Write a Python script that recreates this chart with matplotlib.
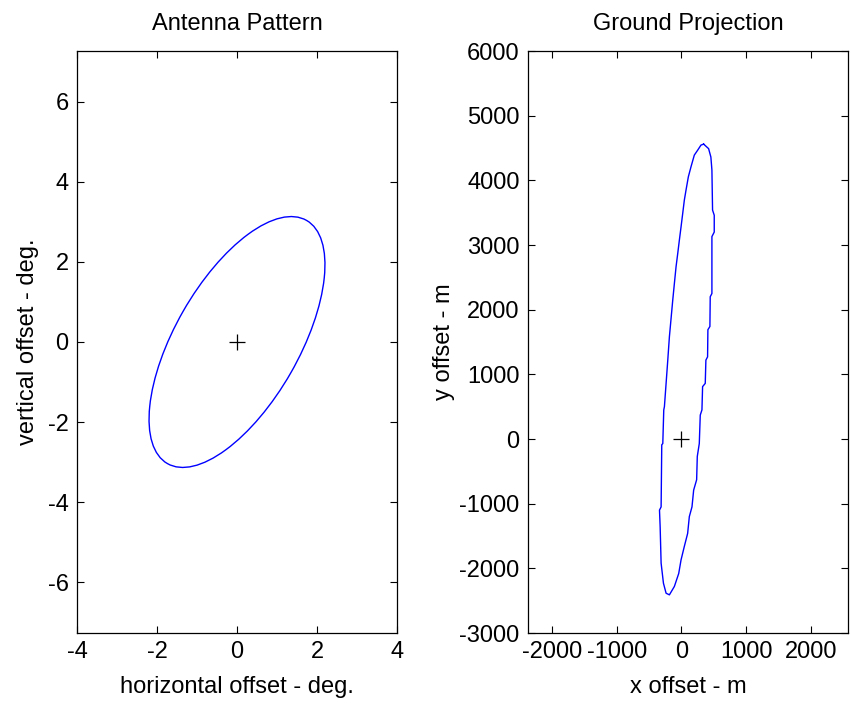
import matplotlib.pyplot as plt
from matplotlib.patches import Ellipse

plt.rcParams['font.family'] = ['Liberation Sans', 'DejaVu Sans']
plt.rcParams['axes.unicode_minus'] = False

# antenna beam footprint in angle space (deg)
beam_center = [0.0, 0.0]
beam_width = 7.0
beam_height = 3.1
beam_angle = 60.2

# ground projection outline (m)
ground_x = [344, 421, 456, 472, 482, 508, 508, 472, 472, 446, 441, 410, 405, 379,
            369, 328, 318, 292, 277, 246, 236, 190, 164, 123, 97, 46, -5, -41,
            -108, -185, -236, -277, -313, -328, -338, -313, -303, -287, -272,
            -262, -236, -210, -185, -159, -133, -108, -82, -56, -31, -5, 21, 46,
            72, 108, 149, 200, 251, 303, 344]
ground_y = [4560, 4490, 4360, 4160, 3540, 3460, 3200, 3130, 2250, 2200, 1740,
            1690, 1270, 1220, 860, 810, 450, 370, -70, -270, -630, -790, -1050,
            -1200, -1460, -1660, -1870, -2080, -2280, -2410, -2385, -2230, -1920,
            -1355, -1100, -1050, -90, -70, 450, 500, 860, 1220, 1580, 1865, 2150,
            2405, 2665, 2870, 3075, 3280, 3490, 3695, 3850, 4055, 4210, 4390,
            4465, 4545, 4560]

left_xticks = [-4, -2, 0, 2, 4]
left_yticks = [-6, -4, -2, 0, 2, 4, 6]
right_xticks = [-2000, -1000, 0, 1000, 2000]
right_yticks = [-3000, -2000, -1000, 0, 1000, 2000, 3000, 4000, 5000, 6000]

fig = plt.figure(figsize=(8.51, 7.03), dpi=100)
W, H = 851, 703
ax1 = fig.add_axes([77 / W, 1 - 633 / H, 320 / W, 582 / H])
ax2 = fig.add_axes([528 / W, 1 - 633 / H, 320 / W, 582 / H])

fs = 17
for ax in (ax1, ax2):
    ax.tick_params(direction='in', top=True, right=True, length=5, width=0.8,
                   labelsize=fs, pad=6)
    for s in ax.spines.values():
        s.set_linewidth(0.9)

ax1.add_patch(Ellipse(beam_center, beam_width, beam_height, angle=beam_angle,
                      fill=False, edgecolor='#0000ff', linewidth=1.0))
ax1.plot(beam_center[0], beam_center[1], '+', color='black', markersize=11,
         markeredgewidth=0.9)
ax1.set_xlim(-4, 4)
ax1.set_ylim(-7.27, 7.27)
ax1.set_xticks(left_xticks)
ax1.set_yticks(left_yticks)
ax1.set_title('Antenna Pattern', fontsize=fs, pad=15)
ax1.set_xlabel('horizontal offset - deg.', fontsize=fs, labelpad=9)
ax1.set_ylabel('vertical offset - deg.', fontsize=fs, labelpad=6)

ax2.plot(ground_x, ground_y, color='#0000ff', linewidth=1.0)
ax2.plot(0, 0, '+', color='black', markersize=11, markeredgewidth=0.9)
ax2.set_xlim(-2370, 2575)
ax2.set_ylim(-3000, 6000)
ax2.set_xticks(right_xticks)
ax2.set_yticks(right_yticks)
ax2.set_title('Ground Projection', fontsize=fs, pad=15)
ax2.set_xlabel('x offset - m', fontsize=fs, labelpad=9)
ax2.set_ylabel('y offset - m', fontsize=fs, labelpad=3)

fig.savefig('out.png', dpi=100)
